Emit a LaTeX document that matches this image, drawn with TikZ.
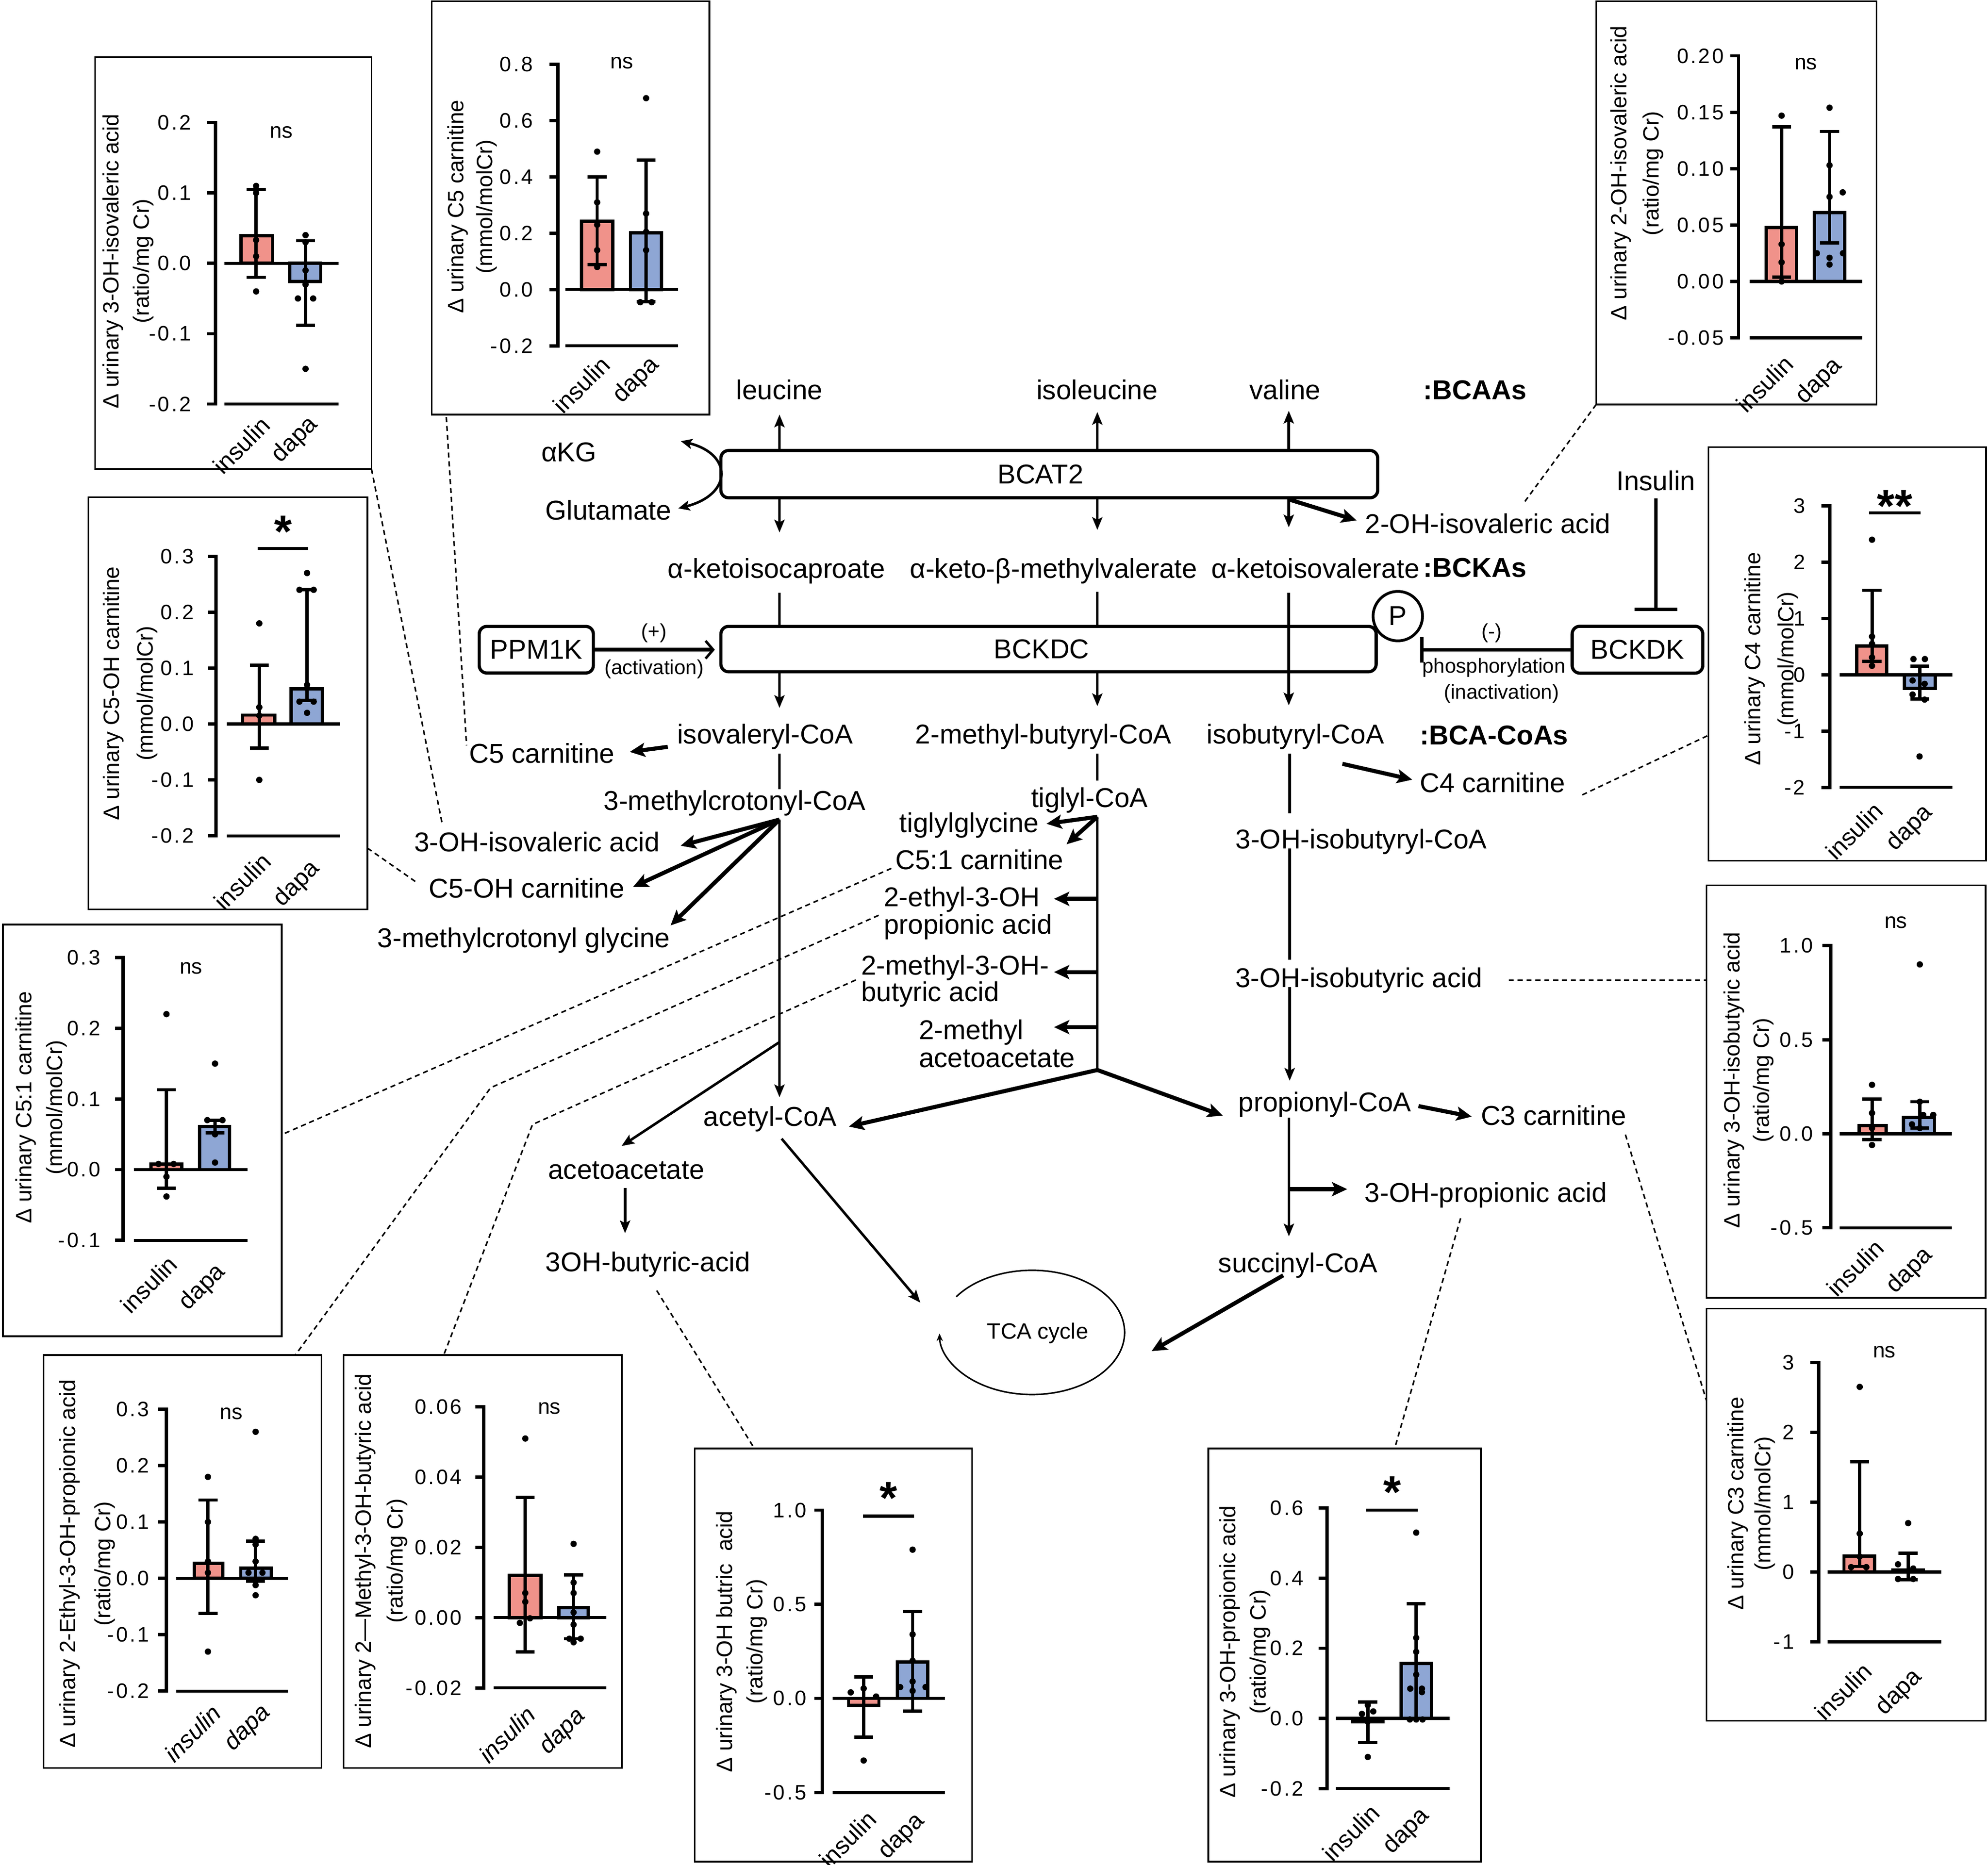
\documentclass[tikz,border=0pt]{standalone}
\usepackage{fontspec}
\setmainfont{Liberation Sans}
\newfontfamily\tickfont[LetterSpace=10]{Liberation Sans}
\usetikzlibrary{arrows.meta,calc}
\definecolor{redbar}{RGB}{240,146,138}
\definecolor{bluebar}{RGB}{142,166,212}
\newcommand\pf{\fontsize{21.5}{24}\selectfont}
\newcommand\chaxis[6]{%
  \draw[axline] ({#1-6.5},#2) -- (#1,#2) -- (#1,#3) -- ({#1-6.5},#3);
  \foreach \tkv/\tkl [count=\tki] in {#4} {\draw[axline] ({#1-6.5},\tkv) -- (#1,\tkv); \node[ticklab] (#6t\tki) at (#5,\tkv) {\tkl};}}
\newcommand\chbar[4]{\draw[barline,fill=#4] (#1,0) rectangle (#2,#3);}
\newcommand\cherr[3]{\draw[errline] (#1,#2) -- (#1,#3) ({#1-7.5},#2) -- ({#1+7.5},#2) ({#1-7.5},#3) -- ({#1+7.5},#3);}
\newcommand\chzero[3]{\draw[zline] (#1,0) -- (#2,0) (#1,#3) -- (#2,#3);}
\newcommand\chdot[1]{\foreach \qx/\qy in {#1} {\fill (\qx,\qy) circle[radius=2.5pt];}}
\begin{document}
\begin{tikzpicture}[x=1pt,y=-1pt,
  frame/.style={line width=1.3pt},
  axline/.style={line width=2.6pt},
  barline/.style={line width=2.6pt},
  errline/.style={line width=2.6pt},
  zline/.style={line width=2.4pt},
  ticklab/.style={anchor=east, inner sep=0pt, font=\tickfont\fontsize{16.5}{18}\selectfont},
  ylab/.style={rotate=90, inner sep=0pt, font=\fontsize{17.5}{20}\selectfont},
  xlab/.style={rotate=45, anchor=east, inner sep=0pt, font=\fontsize{19}{21}\selectfont},
  xlabi/.style={rotate=45, anchor=east, inner sep=0pt, font=\fontsize{19}{21}\selectfont\itshape},
  nsl/.style={inner sep=0pt, font=\fontsize{17}{20}\selectfont},
  star/.style={inner sep=0pt, font=\bfseries\fontsize{36}{38}\selectfont},
  lab/.style={inner sep=0pt, font=\pf, text height=15.5pt, text depth=0pt},
  blab/.style={inner sep=0pt, font=\pf\bfseries, text height=15.5pt, text depth=0pt},
  sml/.style={inner sep=0pt, font=\fontsize{16}{18}\selectfont},
  enz/.style={draw, line width=2.5pt, rounded corners=6pt, inner sep=0pt, font=\pf},
  arr/.style={line width=2pt, -{Stealth[length=10pt,width=8pt,inset=2pt]}},
  tarr/.style={line width=3.2pt, -{Stealth[length=12pt,width=11pt,inset=2.5pt]}},
  pl/.style={line width=2pt},
  dsh/.style={line width=1.2pt, dash pattern=on 4pt off 3pt}]
\useasboundingbox (0,0) rectangle (1568,1470.8);

% ================= pathway nodes =================
\node[lab] (leu) at (614.8,307.3) {leucine};
\node[lab] (ile) at (865.3,307.3) {isoleucine};
\node[lab] (val) at (1013.5,307.3) {valine};
\node[blab] (bcaas) at (1163.3,307.3) {:BCAAs};
\node[lab] (akg) at (448.7,356.3) {αKG};
\node[lab] (glu) at (479.9,402.2) {Glutamate};
\node[enz, minimum width=518pt, minimum height=37.3pt] (bcat) at (827.6,374) {BCAT2\hspace*{14pt}};
\node[lab] (ohiv2) at (1173.5,413) {2-OH-isovaleric acid};
\node[lab] (kic) at (612.5,448.2) {α-ketoisocaproate};
\node[lab] (kmv) at (831,448.2) {α-keto-β-methylvalerate};
\node[lab] (kiv) at (1037.5,448.2) {α-ketoisovalerate};
\node[blab] (bckas) at (1163.3,447.5) {:BCKAs};
\node[enz, minimum width=516.8pt, minimum height=35.8pt] (bckdc) at (827,512) {BCKDC\hspace*{11pt}};
\node[enz, minimum width=90pt, minimum height=36.8pt] (ppm) at (423,512.5) {PPM1K};
\node[enz, minimum width=103pt, minimum height=37pt] (bckdk) at (1291.5,512.5) {BCKDK};
\node[draw, circle, fill=white, line width=2.2pt, minimum size=39pt, inner sep=0pt, font=\pf] (pc) at (1102.5,486) {P};
\node[sml] (plus) at (515.9,499.2) {(+)};
\node[sml] (activ) at (515.9,527.8) {(activation)};
\node[sml] (minus) at (1176.5,499.2) {(-)};
\node[sml] (phos) at (1178.3,526.8) {phosphorylation};
\node[sml] (inact) at (1184.3,547.2) {(inactivation)};
\node[lab] (ins) at (1306,379) {Insulin};
\node[lab] (ivcoa) at (603.5,578.9) {isovaleryl-CoA};
\node[lab] (mbcoa) at (823,578.9) {2-methyl-butyryl-CoA};
\node[lab] (ibcoa) at (1021.7,578.9) {isobutyryl-CoA};
\node[blab] (bcacoas) at (1178.4,579.6) {:BCA-CoAs};
\node[lab] (c5) at (427.5,594.2) {C5 carnitine};
\node[lab] (mccoa) at (579.5,631.3) {3-methylcrotonyl-CoA};
\node[lab] (tigcoa) at (859.3,629.2) {tiglyl-CoA};
\node[lab] (c4) at (1177.3,617.2) {C4 carnitine};
\node[lab] (ohibcoa) at (1073.7,661.7) {3-OH-isobutyryl-CoA};
\node[lab] (ohiv3) at (423.5,663.9) {3-OH-isovaleric acid};
\node[lab] (tiggly) at (764.5,648.7) {tiglylglycine};
\node[lab] (c51) at (772.5,677.9) {C5:1 carnitine};
\node[lab] (c5oh) at (415.5,700.3) {C5-OH carnitine};
\node[lab] (mcg) at (413.1,739.7) {3-methylcrotonyl glycine};
\node[lab,anchor=west] (etA) at (697,707.2) {2-ethyl-3-OH};
\node[lab,anchor=west] (etB) at (697,728.9) {propionic acid};
\node[lab,anchor=west] (mbA) at (679.1,761.4) {2-methyl-3-OH-};
\node[lab,anchor=west] (mbB) at (679.1,782) {butyric acid};
\node[lab,anchor=west] (maA) at (724.6,812.3) {2-methyl};
\node[lab,anchor=west] (maB) at (724.6,834) {acetoacetate};
\node[lab] (ohiba) at (1071.7,771.2) {3-OH-isobutyric acid};
\node[lab] (acoa) at (607.5,880.6) {acetyl-CoA};
\node[lab] (pcoa) at (1045,869) {propionyl-CoA};
\node[lab] (c3) at (1225.4,879.9) {C3 carnitine};
\node[lab] (acac) at (494,922.2) {acetoacetate};
\node[lab] (ohpa) at (1172,940.5) {3-OH-propionic acid};
\node[lab] (ohba) at (511,995.2) {3OH-butyric-acid};
\node[lab] (scoa) at (1023.7,996) {succinyl-CoA};
\node[inner sep=0pt, font=\fontsize{17.5}{20}\selectfont] (tca) at (818.5,1051.6) {TCA cycle};

% ================= coordinates =================
\coordinate (kgT) at (537,348);   \coordinate (gluT) at (535,401);
\coordinate (upL) at (614.8,327); \coordinate (upI) at (865.5,325); \coordinate (upV) at (1016.5,324);
\coordinate (dnL) at (614.8,420); \coordinate (dnI) at (865.5,418); \coordinate (dnV) at (1016.5,416);
\coordinate (ohvT) at (1070,410.5);
\coordinate (kL) at (614.8,467.6); \coordinate (kI) at (865.5,467); \coordinate (kV) at (1016.5,467.6);
\coordinate (cL) at (614.8,558.4); \coordinate (cI) at (865.5,557); \coordinate (cV) at (1016.5,556.4);
\coordinate (ppmT) at (563.8,512.5);
\coordinate (pbar) at (1120.2,512.5);
\coordinate (insbar) at (1306,482);
\coordinate (c5s) at (526.7,589.1); \coordinate (c5T) at (496.7,593.1);
\coordinate (ivA) at (614.8,594.5); \coordinate (ivB) at (614.8,622.7);
\coordinate (bL) at (614.8,646.5);
\coordinate (ohivT) at (536.8,667.1); \coordinate (c5ohT) at (499.3,699.6);
\coordinate (mcgT) at (528.9,730); \coordinate (acoaT) at (614.8,865.5);
\coordinate (mbA1) at (865.5,594.5); \coordinate (mbB1) at (865.5,615.7);
\coordinate (bI) at (865.5,644.3); \coordinate (tigT) at (825.4,649.8); \coordinate (c51T) at (841.2,666);
\coordinate (bB) at (865.5,844);
\coordinate (h1) at (865.5,709); \coordinate (h1T) at (831.3,709);
\coordinate (h2) at (865.5,766.8); \coordinate (h2T) at (831.3,766.8);
\coordinate (h3) at (865.5,810.2); \coordinate (h3T) at (831.3,810.2);
\coordinate (acoaT2) at (669.5,888.6); \coordinate (pcoaT) at (964.4,880);
\coordinate (aaS) at (614.8,822); \coordinate (aaT) at (490.2,904);
\coordinate (acacS) at (493,937); \coordinate (acacT) at (493,972.8);
\coordinate (tcaS) at (616.5,898.2); \coordinate (tcaT) at (725.9,1027.6);
\coordinate (ibA) at (1017.2,594.5); \coordinate (ibB) at (1017.2,641.7);
\coordinate (ibC) at (1017.2,669.3); \coordinate (ibD) at (1017.2,757.1);
\coordinate (ibE) at (1017.2,778.7); \coordinate (ibF) at (1017.2,852.5);
\coordinate (c4S) at (1058.8,602.5); \coordinate (c4T) at (1113.9,615);
\coordinate (c3S) at (1118.8,872.5); \coordinate (c3T) at (1160.8,880.8);
\coordinate (ppA) at (1016.6,881.6); \coordinate (ppB) at (1016.6,975.3);
\coordinate (ohpS) at (1016.6,938); \coordinate (ohpT) at (1062.6,938);
\coordinate (scS) at (1012.1,1006); \coordinate (scT) at (908.3,1065.8);
\coordinate (tcc) at (814,1051);

% ================= pathway connectors =================
\draw[line width=2pt, {Stealth[length=9pt,width=8pt,inset=2pt]}-{Stealth[length=9pt,width=8pt,inset=2pt]}] (kgT) .. controls (578,358) and (578,390) .. (gluT);
\draw[arr] (bcat.north -| upL) -- (upL);
\draw[arr] (bcat.north -| upI) -- (upI);
\draw[arr] (bcat.north -| upV) -- (upV);
\draw[arr] (bcat.south -| dnL) -- (dnL);
\draw[arr] (bcat.south -| dnI) -- (dnI);
\draw[arr] (bcat.south -| dnV) -- (dnV);
\draw[tarr] (bcat.south -| dnV) -- (ohvT);
\draw[pl] (kL) -- (bckdc.north -| kL);
\draw[arr] (bckdc.south -| cL) -- (cL);
\draw[pl] (kI) -- (bckdc.north -| kI);
\draw[arr] (bckdc.south -| cI) -- (cI);
\draw[arr] (kV) -- (cV);
\draw[line width=3pt, -{Straight Barb[length=6pt,width=14pt,line width=2pt]}] (ppm.east) -- (ppmT);
\draw[line width=2.5pt, -{Bar[width=20pt]}] (bckdk.west) -- (pbar);
\draw[line width=2.5pt, -{Bar[width=34pt]}] ([yshift=-6pt]ins.south) -- (insbar);
\draw[tarr] (c5s) -- (c5T);
\draw[pl] (ivA) -- (ivB);
\draw[tarr] (bL) -- (ohivT);
\draw[tarr] (bL) -- (c5ohT);
\draw[tarr] (bL) -- (mcgT);
\draw[arr] (bL) -- (acoaT);
\draw[pl] (mbA1) -- (mbB1);
\draw[tarr] (bI) -- (tigT);
\draw[tarr] (bI) -- (c51T);
\draw[pl] (bI) -- (bB);
\draw[tarr] (h1) -- (h1T);
\draw[tarr] (h2) -- (h2T);
\draw[tarr] (h3) -- (h3T);
\draw[tarr] (bB) -- (acoaT2);
\draw[tarr] (bB) -- (pcoaT);
\draw[arr] (aaS) -- (aaT);
\draw[arr] (acacS) -- (acacT);
\draw[arr] (tcaS) -- (tcaT);
\draw[pl] (ibA) -- (ibB);
\draw[pl] (ibC) -- (ibD);
\draw[arr] (ibE) -- (ibF);
\draw[tarr] (c4S) -- (c4T);
\draw[tarr] (c3S) -- (c3T);
\draw[arr] (ppA) -- (ppB);
\draw[tarr] (ohpS) -- (ohpT);
\draw[tarr] (scS) -- (scT);
\draw[line width=1.2pt, -{Stealth[length=6pt,width=5pt]}] (tcc) ++(145:73pt and 49pt) arc[start angle=145, end angle=-179, x radius=73pt, y radius=49pt];

% ================= charts =================
% chart 1: 3-OH-isovaleric acid
\coordinate (ch1a) at (75,45); \coordinate (ch1b) at (293,370);
\draw[frame] (ch1a) rectangle (ch1b);
\begin{scope}[shift={(0,207.7)}, y=555pt]
\chbar{190}{215}{0.039}{redbar}
\chbar{228.5}{253}{-0.026}{bluebar}
\cherr{202}{-0.02}{0.105}
\cherr{241}{-0.088}{0.032}
\chzero{177}{267}{-0.2}
\chaxis{170}{0.2}{-0.2}{0.2/0.2,0.1/0.1,0/0.0,-0.1/-0.1,-0.2/-0.2}{151}{c1}
\chdot{202/0.11,202/0.1,202/0.033,202/0.01,202/-0.04,241/0.04,241/0.03,241/-0.01,241/-0.03,235/-0.05,247/-0.05,241/-0.15}
\end{scope}
\node[nsl] (c1ns) at (222,104.5) {ns};
\node[ylab] (c1ya) at (89,206) {Δ urinary 3-OH-isovaleric acid};
\node[ylab] (c1yb) at (113,206) {(ratio/mg Cr)};
\node[xlab] (c1xa) at (209.5,332) {insulin};
\node[xlab] (c1xb) at (248,332) {dapa};

% chart 2: C5 carnitine
\coordinate (ch2a) at (340.5,1); \coordinate (ch2b) at (559.5,327);
\draw[frame] (ch2a) rectangle (ch2b);
\begin{scope}[shift={(0,228.4)}, y=222pt]
\chbar{458.6}{483.2}{0.242}{redbar}
\chbar{497.2}{521.8}{0.202}{bluebar}
\cherr{471}{0.089}{0.40}
\cherr{509.6}{-0.043}{0.46}
\chzero{446}{535}{-0.2}
\chaxis{439.9}{0.8}{-0.2}{0.8/0.8,0.6/0.6,0.4/0.4,0.2/0.2,0/0.0,-0.2/-0.2}{420.6}{c2}
\chdot{471/0.49,471/0.31,471/0.23,471/0.14,471/0.08,509.6/0.68,509.6/0.27,509.6/0.205,509.6/0.14,505/-0.045,514/-0.045}
\end{scope}
\node[nsl] (c2ns) at (490.6,49.5) {ns};
\node[ylab] (c2ya) at (361,163) {Δ urinary C5 carnitine};
\node[ylab] (c2yb) at (384,163) {(mmol/molCr)};
\node[xlab] (c2xa) at (477.7,284.3) {insulin};
\node[xlab] (c2xb) at (517,285) {dapa};

% chart 3: 2-OH-isovaleric acid
\coordinate (ch3a) at (1259,1); \coordinate (ch3b) at (1480,319);
\draw[frame] (ch3a) rectangle (ch3b);
\begin{scope}[shift={(0,222)}, y=889.6pt]
\chbar{1393.2}{1416.8}{0.0477}{redbar}
\chbar{1431}{1455}{0.061}{bluebar}
\cherr{1405.2}{0.004}{0.137}
\cherr{1443}{0.034}{0.133}
\chzero{1380}{1468.7}{-0.05}
\chaxis{1371.2}{0.2}{-0.05}{0.2/0.20,0.15/0.15,0.1/0.10,0.05/0.05,0/0.00,-0.05/-0.05}{1359.9}{c3}
\chdot{1405.2/0.147,1405.2/0.033,1405.2/0.017,1405.2/0.0,1443/0.154,1443/0.103,1443/0.075,1453.4/0.079,1433/0.025,1453.6/0.025,1443/0.021,1443/0.015}
\end{scope}
\node[nsl] (c3ns) at (1424.3,50.5) {ns};
\node[ylab] (c3ya) at (1278.4,136.7) {Δ urinary 2-OH-isovaleric acid};
\node[ylab] (c3yb) at (1304,136.7) {(ratio/mg Cr)};
\node[xlab] (c3xa) at (1411,283.6) {insulin};
\node[xlab] (c3xb) at (1450,285.6) {dapa};

% chart 4: C4 carnitine
\coordinate (ch4a) at (1347.5,352.7); \coordinate (ch4b) at (1566.5,679);
\draw[frame] (ch4a) rectangle (ch4b);
\begin{scope}[shift={(0,532.3)}, y=44.4pt]
\chbar{1464.4}{1487.9}{0.51}{redbar}
\chbar{1502.1}{1526.3}{-0.24}{bluebar}
\cherr{1476.5}{0.24}{1.5}
\cherr{1514.2}{-0.43}{0.15}
\chzero{1450.9}{1540}{-2}
\chaxis{1443.1}{3}{-2}{3/3,2/2,1/1,0/0,-1/-1,-2/-2}{1423.9}{c4}
\chdot{1476.5/2.4,1476.5/0.68,1476.5/0.55,1476.5/0.31,1476.5/0.16,1509.2/0.28,1518.2/0.28,1508.5/-0.1,1518/-0.16,1508.5/-0.35,1518/-0.44,1514/-1.45}
\draw[zline] (1474.3,2.88) -- (1514.9,2.88);
\end{scope}
\node[star] (c4st) at (1494.5,399.3) {**};
\node[ylab] (c4ya) at (1384,519.7) {Δ urinary C4 carnitine};
\node[ylab] (c4yb) at (1410.3,519.7) {(mmol/molCr)};
\node[xlab] (c4xa) at (1481.6,636.3) {insulin};
\node[xlab] (c4xb) at (1521.5,638.4) {dapa};

% chart 5: 3-OH-isobutyric acid
\coordinate (ch5a) at (1346,698.4); \coordinate (ch5b) at (1566,1023.7);
\draw[frame] (ch5a) rectangle (ch5b);
\begin{scope}[shift={(0,894.3)}, y=148.4pt]
\chbar{1466.5}{1487.6}{0.043}{redbar}
\chbar{1501.4}{1525.8}{0.086}{bluebar}
\cherr{1476.5}{-0.03}{0.185}
\cherr{1514.2}{0.03}{0.17}
\chzero{1450.9}{1539.5}{-0.5}
\chaxis{1443.8}{1}{-0.5}{1/1.0,0.5/0.5,0/0.0,-0.5/-0.5}{1430.2}{c5}
\chdot{1476.5/0.26,1476.5/0.11,1476.5/0.03,1476.5/-0.06,1514.2/0.9,1514.2/0.17,1516.9/0.1,1524.8/0.1,1508/0.05,1514.2/0.03}
\end{scope}
\node[nsl] (c5ns) at (1495.3,727.5) {ns};
\node[ylab] (c5ya) at (1367.7,852) {Δ urinary 3-OH-isobutyric acid};
\node[ylab] (c5yb) at (1390.7,852) {(ratio/mg Cr)};
\node[xlab] (c5xa) at (1482.3,981) {insulin};
\node[xlab] (c5xb) at (1521.5,987.4) {dapa};

% chart 6: C3 carnitine
\coordinate (ch6a) at (1346,1032.2); \coordinate (ch6b) at (1566,1357.4);
\draw[frame] (ch6a) rectangle (ch6b);
\begin{scope}[shift={(0,1240)}, y=55.1pt]
\chbar{1454.4}{1478.6}{0.23}{redbar}
\chbar{1493}{1517}{0.03}{bluebar}
\cherr{1466.8}{0.08}{1.58}
\cherr{1505}{-0.11}{0.27}
\chzero{1441.6}{1531}{-1}
\chaxis{1434.5}{3}{-1}{3/3,2/2,1/1,0/0,-1/-1}{1415.3}{c6}
\chdot{1466.8/2.65,1466.8/0.55,1466.8/0.22,1460/0.07,1472/0.07,1505/0.7,1497/0.11,1497/-0.1,1509/-0.1,1509/0.05}
\end{scope}
\node[nsl] (c6ns) at (1486.2,1066.5) {ns};
\node[ylab] (c6ya) at (1370.5,1186) {Δ urinary C3 carnitine};
\node[ylab] (c6yb) at (1391.8,1186) {(mmol/molCr)};
\node[xlab] (c6xa) at (1473,1315) {insulin};
\node[xlab] (c6xb) at (1513,1320) {dapa};

% chart 7: C5-OH carnitine
\coordinate (ch7a) at (69.7,392.1); \coordinate (ch7b) at (289.8,717.4);
\draw[frame] (ch7a) rectangle (ch7b);
\begin{scope}[shift={(0,571.1)}, y=441pt]
\chbar{191.4}{216.6}{0.016}{redbar}
\chbar{229.7}{254.3}{0.063}{bluebar}
\cherr{204.5}{-0.043}{0.105}
\cherr{242.2}{0.042}{0.24}
\chzero{178.9}{268}{-0.2}
\chaxis{170.5}{0.3}{-0.2}{0.3/0.3,0.2/0.2,0.1/0.1,0/0.0,-0.1/-0.1,-0.2/-0.2}{153.1}{c7}
\chdot{204.5/0.18,204.5/0.03,204.5/0.015,204.5/-0.1,242.2/0.27,236.2/0.24,247.4/0.24,242.2/0.07,236.2/0.04,247.4/0.04,242.2/0.02}
\draw[zline] (203.2,0.314) -- (243.1,0.314);
\end{scope}
\node[star] (c7st) at (223.5,419.2) {*};
\node[ylab] (c7ya) at (89.6,547) {Δ urinary C5-OH carnitine};
\node[ylab] (c7yb) at (116.2,547) {(mmol/molCr)};
\node[xlab] (c7xa) at (210.3,676) {insulin};
\node[xlab] (c7xb) at (249.5,682.4) {dapa};

% chart 8: C5:1 carnitine
\coordinate (ch8a) at (2.2,729.3); \coordinate (ch8b) at (222.2,1054);
\draw[frame] (ch8a) rectangle (ch8b);
\begin{scope}[shift={(0,922.6)}, y=557.6pt]
\chbar{119}{143.5}{0.008}{redbar}
\chbar{157.4}{181.1}{0.061}{bluebar}
\cherr{131.3}{-0.026}{0.113}
\cherr{169.6}{0.052}{0.07}
\chzero{105.5}{195.1}{-0.1}
\chaxis{97.1}{0.3}{-0.1}{0.3/0.3,0.2/0.2,0.1/0.1,0/0.0,-0.1/-0.1}{79.4}{c8}
\chdot{131.3/0.22,125/0.008,137/0.008,131.3/-0.01,131.3/-0.038,169.6/0.15,163.5/0.07,175.5/0.07,169.6/0.05,169.6/0.01}
\end{scope}
\node[nsl] (c8ns) at (150.7,763.8) {ns};
\node[ylab] (c8ya) at (20.5,873.5) {Δ urinary C5:1 carnitine};
\node[ylab] (c8yb) at (44.8,873.5) {(mmol/molCr)};
\node[xlab] (c8xa) at (136.5,994) {insulin};
\node[xlab] (c8xb) at (175,1000.5) {dapa};

% chart 9: 2-Ethyl-3-OH-propionic acid
\coordinate (ch9a) at (34.4,1068.8); \coordinate (ch9b) at (253.5,1394.5);
\draw[frame] (ch9a) rectangle (ch9b);
\begin{scope}[shift={(0,1245)}, y=444.6pt]
\chbar{153.2}{175.8}{0.027}{redbar}
\chbar{189.9}{213.9}{0.018}{bluebar}
\cherr{164}{-0.062}{0.139}
\cherr{201.6}{-0.005}{0.066}
\chzero{139.1}{227.1}{-0.2}
\chaxis{131.2}{0.3}{-0.2}{0.3/0.3,0.2/0.2,0.1/0.1,0/0.0,-0.1/-0.1,-0.2/-0.2}{118}{c9}
\chdot{164/0.18,164/0.1,164/0.03,164/0.01,164/-0.13,201.6/0.26,201.6/0.07,201.6/0.06,201.6/0.03,196/0.01,207/0.01,201.6/-0.005,201.6/-0.012,201.6/-0.03}
\end{scope}
\node[nsl] (c9ns) at (182.5,1115) {ns};
\node[ylab] (c9ya) at (55,1233.4) {Δ urinary 2-Ethyl-3-OH-propionic acid};
\node[ylab] (c9yb) at (82.8,1233.4) {(ratio/mg Cr)};
\node[xlabi] (c9xa) at (171,1348) {insulin};
\node[xlabi] (c9xb) at (210.5,1348) {dapa};

% chart 10: 2-Methyl-3-OH-butyric acid
\coordinate (ch10a) at (271.1,1068.8); \coordinate (ch10b) at (490.5,1394.5);
\draw[frame] (ch10a) rectangle (ch10b);
\begin{scope}[shift={(0,1276)}, y=2771pt]
\chbar{401.7}{426.6}{0.012}{redbar}
\chbar{440.7}{464.1}{0.0028}{bluebar}
\cherr{414.3}{-0.0097}{0.0342}
\cherr{452.4}{-0.006}{0.0122}
\chzero{389.3}{478.2}{-0.02}
\chaxis{381.4}{0.06}{-0.02}{0.06/0.06,0.04/0.04,0.02/0.02,0/0.00,-0.02/-0.02}{364.4}{c10}
\chdot{414.3/0.051,414.3/0.007,414.3/0.0045,418/-0.0002,410/-0.0015,452.4/0.021,452.4/0.01,452.4/0.007,452.4/0.0015,452.4/-0.002,449/-0.006,458/-0.006,452.4/-0.007}
\end{scope}
\node[nsl] (c10ns) at (433.3,1111) {ns};
\node[ylab] (c10ya) at (288.1,1231.3) {Δ urinary 2—Methyl-3-OH-butyric acid};
\node[ylab] (c10yb) at (313.1,1231.3) {(ratio/mg Cr)};
\node[xlabi] (c10xa) at (419,1349) {insulin};
\node[xlabi] (c10xb) at (459,1351) {dapa};

% chart 11: 3-OH butric acid
\coordinate (ch11a) at (548,1142.6); \coordinate (ch11b) at (766.8,1468.5);
\draw[frame] (ch11a) rectangle (ch11b);
\begin{scope}[shift={(0,1339.7)}, y=148.5pt]
\chbar{669.3}{693.2}{-0.038}{redbar}
\chbar{707.9}{731.7}{0.193}{bluebar}
\cherr{681.2}{-0.205}{0.114}
\cherr{719.8}{-0.067}{0.462}
\chzero{656.7}{745.3}{-0.5}
\chaxis{648.7}{1}{-0.5}{1/1.0,0.5/0.5,0/0.0,-0.5/-0.5}{636.4}{c11}
\chdot{671/0.032,681.2/0.053,691/0.01,681.2/-0.33,719.8/0.79,719.8/0.34,719.8/0.2,719.8/0.09,710/0.06,730/0.06,719.8/0.04}
\draw[zline] (680.5,0.968) -- (720.8,0.968);
\end{scope}
\node[star] (c11st) at (700.9,1181.8) {*};
\node[ylab] (c11ya) at (573.2,1294.8) {Δ urinary 3-OH butric~ acid};
\node[ylab] (c11yb) at (597.1,1294.8) {(ratio/mg Cr)};
\node[xlab] (c11xa) at (687.7,1431.5) {insulin};
\node[xlab] (c11xb) at (726.3,1433.6) {dapa};

% chart 12: 3-OH-propionic acid
\coordinate (ch12a) at (953,1142.6); \coordinate (ch12b) at (1168,1468.5);
\draw[frame] (ch12a) rectangle (ch12b);
\begin{scope}[shift={(0,1355.5)}, y=276.5pt]
\chbar{1066.7}{1090.7}{-0.009}{redbar}
\chbar{1105.1}{1129.1}{0.157}{bluebar}
\cherr{1078.8}{-0.069}{0.047}
\cherr{1117}{0.0}{0.327}
\chzero{1053.7}{1143.5}{-0.2}
\chaxis{1046.5}{0.6}{-0.2}{0.6/0.6,0.4/0.4,0.2/0.2,0/0.0,-0.2/-0.2}{1028.3}{c12}
\chdot{1074.2/0.013,1083.1/0.02,1078.8/0.038,1078.8/-0.009,1078.8/-0.11,1117/0.53,1117/0.23,1117/0.19,1117/0.125,1112.3/0.085,1121.5/0.085,1121.5/0.075,1112/-0.003,1117/-0.003,1122/-0.003}
\draw[zline] (1077.7,0.594) -- (1118.1,0.594);
\end{scope}
\node[star] (c12st) at (1098.2,1177.2) {*};
\node[ylab] (c12ya) at (970,1303) {Δ urinary 3-OH-propionic acid};
\node[ylab] (c12yb) at (994,1303) {(ratio/mg Cr)};
\node[xlab] (c12xa) at (1084.8,1426.5) {insulin};
\node[xlab] (c12xb) at (1124.5,1429.6) {dapa};

% ================= dashed links =================
\coordinate (d1T) at (349,651);
\coordinate (d2S) at (352,329); \coordinate (d2T) at (368,588);
\coordinate (d3S) at (289.8,669); \coordinate (d3T) at (330,697);
\coordinate (d4S) at (1259,319); \coordinate (d4T) at (1202.3,396.1);
\coordinate (d5S) at (1248,627); \coordinate (d5T) at (1347.5,580);
\coordinate (d6S) at (1190,773); \coordinate (d6T) at (1346,773);
\coordinate (d7S) at (1282,895); \coordinate (d7T) at (1346,1105);
\coordinate (d8S) at (1152,961); \coordinate (d8T) at (1100,1142.6);
\coordinate (d9S) at (518,1018); \coordinate (d9T) at (595,1142.6);
\coordinate (d10S) at (703,685); \coordinate (d10T) at (222.2,895);
\coordinate (d11S) at (693,722); \coordinate (d11M) at (387,858); \coordinate (d11T) at (233,1068.8);
\coordinate (d12S) at (675,773); \coordinate (d12M) at (420,887); \coordinate (d12T) at (350,1068.8);
\draw[dsh] (ch1b) -- (d1T);
\draw[dsh] (d2S) -- (d2T);
\draw[dsh] (d3S) -- (d3T);
\draw[dsh] (d4S) -- (d4T);
\draw[dsh] (d5S) -- (d5T);
\draw[dsh] (d6S) -- (d6T);
\draw[dsh] (d7S) -- (d7T);
\draw[dsh] (d8S) -- (d8T);
\draw[dsh] (d9S) -- (d9T);
\draw[dsh] (d10S) -- (d10T);
\draw[dsh] (d11S) -- (d11M) -- (d11T);
\draw[dsh] (d12S) -- (d12M) -- (d12T);
\end{tikzpicture}
\end{document}
